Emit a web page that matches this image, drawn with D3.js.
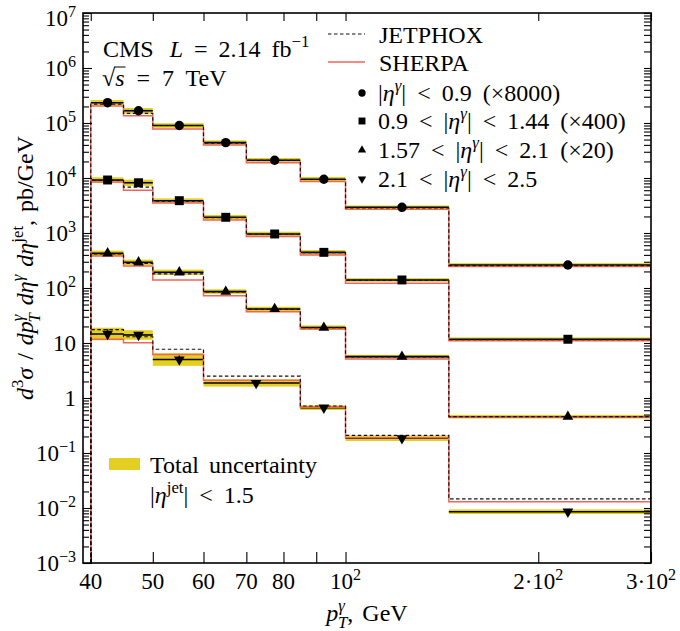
<!DOCTYPE html>
<html>
<head>
<meta charset="utf-8">
<script src="https://cdn.jsdelivr.net/npm/d3@7"></script>
<style>
  body { margin: 0; background: #fff; }
  svg text { font-family: "Liberation Serif", serif; fill: #000; }
</style>
</head>
<body>
<svg id="chart" width="680" height="631"></svg>
<script>
// bin edges in pT (GeV); the forward region merges 60-85
const edges = [40, 45, 50, 60, 70, 85, 100, 145, 300];
const edgesFwd = [40, 45, 50, 60, 85, 100, 145, 300];

// |eta| < 0.9 (x8000)
const s1Data    = [2.34e5, 1.67e5, 9.0e4, 4.4e4, 2.1e4, 9.5e3, 2.93e3, 262];
const s1Jetphox = [2.2e5, 1.5e5, 9.0e4, 4.3e4, 2.1e4, 9.4e3, 2.85e3, 255];
const s1Sherpa  = [2.04e5, 1.35e5, 7.8e4, 4.0e4, 1.9e4, 8.6e3, 2.7e3, 245];
const s1Unc     = [0.12, 0.12, 0.10, 0.10, 0.10, 0.10, 0.08, 0.08];

// 0.9 < |eta| < 1.44 (x400)
const s2Data    = [9.2e3, 8.2e3, 3.87e3, 1.93e3, 960, 445, 140, 11.7];
const s2Jetphox = [9.0e3, 6.8e3, 3.8e3, 1.9e3, 950, 440, 138, 11.5];
const s2Sherpa  = [8.5e3, 6.0e3, 3.5e3, 1.72e3, 860, 400, 122, 11];
const s2Unc     = [0.12, 0.14, 0.10, 0.10, 0.10, 0.10, 0.08, 0.08];

// 1.57 < |eta| < 2.1 (x20)
const s3Data    = [427, 293, 193, 86, 41.5, 19, 5.65, 0.457];
const s3Jetphox = [415, 281, 180, 85, 41, 19, 5.6, 0.46];
const s3Sherpa  = [380, 251, 140, 72, 37, 18, 5.1, 0.45];
const s3Unc     = [0.12, 0.12, 0.12, 0.10, 0.10, 0.10, 0.08, 0.08];

// 2.1 < |eta| < 2.5
const s4Data    = [14.6, 14.0, 5.0, 1.87, 0.667, 0.185, 0.00857];
const s4Jetphox = [17.5, 13, 7.7, 2.5, 0.716, 0.21, 0.0146];
const s4Sherpa  = [11.7, 10.1, 6.2, 2.1, 0.68, 0.19, 0.013];
const s4Unc     = [0.30, 0.22, 0.30, 0.16, 0.10, 0.12, 0.10];
const s4Stat    = [0.22, 0.12, 0.18, 0.05, 0.05, 0.05, 0.05];

// tick labels ("^" starts a superscript)
const xTickVals = [40, 50, 60, 70, 80, 90, 100, 200, 300];
const xTickLabels = ["40", "50", "60", "70", "80", "", "10^2", "2·10^2", "3·10^2"];
const yTickVals = [1e7, 1e6, 1e5, 1e4, 1e3, 1e2, 10, 1, 0.1, 0.01, 0.001];
const yTickLabels = ["10^7", "10^6", "10^5", "10^4", "10^3", "10^2", "10", "1", "10^−1", "10^−2", "10^−3"];

const legendLabels = [
  [["|"], ["η", "i"], ["γ", "isup"], ["| < 0.9 (×8000)"]],
  [["0.9 < |"], ["η", "i"], ["γ", "isup"], ["| < 1.44 (×400)"]],
  [["1.57 < |"], ["η", "i"], ["γ", "isup"], ["| < 2.1 (×20)"]],
  [["2.1 < |"], ["η", "i"], ["γ", "isup"], ["| < 2.5"]]
];

const YELLOW = "#e3ce21";
const RED = "#f0645a";
const FS = 23;   // tick labels
const FT = 24;   // legend and notes

const svg = d3.select("#chart");
const mL = 83, mR = 651, mT = 13, mB = 563;

const x = d3.scaleLog().domain([38.9, 300]).range([mL, mR]);
const y = d3.scaleLog().domain([1e-3, 1e7]).range([mB, mT]);

const triDown = {
  draw(ctx, size) {
    const s = Math.sqrt(size / (Math.sqrt(3) / 4));
    const h = s * Math.sqrt(3) / 2;
    ctx.moveTo(-s / 2, -h / 3);
    ctx.lineTo(s / 2, -h / 3);
    ctx.lineTo(0, 2 * h / 3);
    ctx.closePath();
  }
};

const series = [
  { data: s1Data, jet: s1Jetphox, sh: s1Sherpa, unc: s1Unc, edges: edges, sym: d3.symbolCircle, size: 70 },
  { data: s2Data, jet: s2Jetphox, sh: s2Sherpa, unc: s2Unc, edges: edges, sym: d3.symbolSquare, size: 80 },
  { data: s3Data, jet: s3Jetphox, sh: s3Sherpa, unc: s3Unc, edges: edges, sym: d3.symbolTriangle, size: 50 },
  { data: s4Data, jet: s4Jetphox, sh: s4Sherpa, unc: s4Unc, edges: edgesFwd, sym: triDown, size: 50, stat: s4Stat }
];

// text with italic / super / subscript pieces
function rich(parent, px, py, parts, size, anchor, wsp) {
  const t = parent.append("text")
    .attr("x", px).attr("y", py)
    .attr("font-size", size)
    .attr("text-anchor", anchor || "start");
  if (wsp) t.attr("word-spacing", wsp);
  let cur = 0;
  parts.forEach(function(p) {
    const kind = p[1] || "";
    let shift = 0, fs = size;
    if (kind.includes("sup")) { shift = -0.4 * size; fs = 0.7 * size; }
    if (kind.includes("sub")) { shift = 0.3 * size; fs = 0.7 * size; }
    const ts = t.append("tspan").text(p[0]).attr("font-size", fs).attr("dy", shift - cur);
    if (kind.includes("i")) ts.attr("font-style", "italic");
    if (p[2]) ts.attr("dx", p[2]);
    cur = shift;
  });
  return t;
}
function parseLabel(s) {
  const k = s.indexOf("^");
  if (k < 0) return [[s]];
  return [[s.slice(0, k)], [s.slice(k + 1), "sup"]];
}

svg.append("defs").append("clipPath").attr("id", "plot")
  .append("rect").attr("x", mL).attr("y", mT).attr("width", mR - mL).attr("height", mB - mT);

const plot = svg.append("g").attr("clip-path", "url(#plot)");

// uncertainty bands and data lines
series.forEach(function(s) {
  const bins = s.data.map(function(v, i) {
    return { lo: s.edges[i], hi: s.edges[i + 1], v: v, u: s.unc[i] };
  });
  plot.append("g").selectAll("rect").data(bins).enter().append("rect")
    .attr("x", function(d) { return x(d.lo); })
    .attr("width", function(d) { return x(d.hi) - x(d.lo); })
    .attr("y", function(d) { return y(d.v * (1 + d.u)); })
    .attr("height", function(d) { return y(d.v / (1 + d.u)) - y(d.v * (1 + d.u)); })
    .attr("fill", YELLOW);
  plot.append("g").selectAll("line").data(bins).enter().append("line")
    .attr("x1", function(d) { return x(d.lo); })
    .attr("x2", function(d) { return x(d.hi); })
    .attr("y1", function(d) { return y(d.v); })
    .attr("y2", function(d) { return y(d.v); })
    .attr("stroke", "#000").attr("stroke-width", 1.6);
});

// step histograms: SHERPA then JETPHOX on top
function stepPoints(e, vals) {
  const pts = [[e[0], 1e-3]];
  vals.forEach(function(v, i) { pts.push([e[i], v]); pts.push([e[i + 1], v]); });
  pts.push([e[e.length - 1], 1e-3]);
  return pts;
}
const step = d3.line().x(function(d) { return x(d[0]); }).y(function(d) { return y(d[1]); });

series.forEach(function(s) {
  plot.append("path").attr("d", step(stepPoints(s.edges, s.sh)))
    .attr("fill", "none").attr("stroke", RED).attr("stroke-width", 1.5);
});
series.forEach(function(s) {
  plot.append("path").attr("d", step(stepPoints(s.edges, s.jet)))
    .attr("fill", "none").attr("stroke", "#111").attr("stroke-width", 1.2)
    .attr("stroke-dasharray", "3.5,2.5");
});

// markers
series.forEach(function(s) {
  const pts = s.data.map(function(v, i) {
    return { c: (s.edges[i] + s.edges[i + 1]) / 2, v: v, st: s.stat ? s.stat[i] : 0 };
  });
  if (s.stat) {
    plot.append("g").selectAll("line").data(pts).enter().append("line")
      .attr("x1", function(d) { return x(d.c); })
      .attr("x2", function(d) { return x(d.c); })
      .attr("y1", function(d) { return y(d.v * (1 + d.st)); })
      .attr("y2", function(d) { return y(d.v / (1 + d.st)); })
      .attr("stroke", "#000").attr("stroke-width", 1.6);
  }
  plot.append("g").selectAll("path").data(pts).enter().append("path")
    .attr("d", d3.symbol().type(s.sym).size(s.size))
    .attr("transform", function(d) { return "translate(" + x(d.c) + "," + y(d.v) + ")"; })
    .attr("fill", "#000");
});

// axes: ticks pointing inward
const yMinor = [];
for (let e = -3; e < 7; e++) for (let k = 2; k <= 9; k++) yMinor.push(k * Math.pow(10, e));

function styleAxis(g) {
  g.select(".domain").remove();
  g.selectAll(".tick line").attr("stroke", "#000").attr("stroke-width", 1.1);
}
svg.append("g").attr("transform", "translate(0," + mB + ")")
  .call(d3.axisBottom(x).tickValues(xTickVals).tickSize(-11).tickFormat("")).call(styleAxis);
svg.append("g").attr("transform", "translate(0," + mT + ")")
  .call(d3.axisTop(x).tickValues(xTickVals).tickSize(-8).tickFormat("")).call(styleAxis);
svg.append("g").attr("transform", "translate(" + mL + ",0)")
  .call(d3.axisLeft(y).tickValues(yTickVals).tickSize(-9).tickFormat("")).call(styleAxis);
svg.append("g").attr("transform", "translate(" + mL + ",0)")
  .call(d3.axisLeft(y).tickValues(yMinor).tickSize(-6).tickFormat("")).call(styleAxis);
svg.append("g").attr("transform", "translate(" + mR + ",0)")
  .call(d3.axisRight(y).tickValues(yTickVals.concat(yMinor)).tickSize(-7).tickFormat("")).call(styleAxis);

svg.append("rect").attr("x", mL).attr("y", mT).attr("width", mR - mL).attr("height", mB - mT)
  .attr("fill", "none").attr("stroke", "#000").attr("stroke-width", 1.6);

// tick labels
xTickVals.forEach(function(v, i) {
  if (xTickLabels[i]) rich(svg, x(v), 589, parseLabel(xTickLabels[i]), FS, "middle");
});
yTickVals.forEach(function(v, i) {
  rich(svg, 76, Math.max(y(v) + 8, 26), parseLabel(yTickLabels[i]), FS, "end");
});

// axis titles
rich(svg, 367, 621, [["p", "i"], ["γ", "isup"], ["T", "isub", -7], [", GeV"]], FT, "middle", 3);
rich(svg, 0, 0, [["d", "i"], ["3", "sup"], ["σ", "i"], [" / "], ["dp", "i"], ["γ", "isup"], ["T", "isub", -8],
  [" "], ["dη", "i"], ["γ", "isup"], [" "], ["dη", "i"], ["jet", "sup"], [", pb/GeV"]], FT, "middle", 2)
  .attr("transform", "translate(33,268) rotate(-90)");

// annotations
rich(svg, 103, 57, [["CMS"], ["L", "i", 16], [" = 2.14 fb"], ["−1", "sup"]], FT, "start", 5);
const rs = rich(svg, 102, 86, [["√"], ["s", "i"], [" = 7 TeV"]], FT, "start", 6);
const sBox = rs.selectAll("tspan").nodes()[1].getBBox();
svg.append("line").attr("x1", sBox.x - 1).attr("x2", sBox.x + sBox.width + 1)
  .attr("y1", sBox.y + 2).attr("y2", sBox.y + 2).attr("stroke", "#000").attr("stroke-width", 1);

// legend, top right
const lg = svg.append("g");
lg.append("line").attr("x1", 328).attr("x2", 365).attr("y1", 34).attr("y2", 34)
  .attr("stroke", "#111").attr("stroke-width", 1.2).attr("stroke-dasharray", "3.5,2.5");
rich(lg, 379, 43, [["JETPHOX"]], FT);
lg.append("line").attr("x1", 328).attr("x2", 365).attr("y1", 62).attr("y2", 62)
  .attr("stroke", RED).attr("stroke-width", 1.5);
rich(lg, 379, 71, [["SHERPA"]], FT);
const legRowY = [93, 121, 150, 179];
series.forEach(function(s, i) {
  lg.append("path").attr("d", d3.symbol().type(s.sym).size(s.size * 0.6))
    .attr("transform", "translate(362," + legRowY[i] + ")").attr("fill", "#000");
  rich(lg, 378, legRowY[i] + 8, legendLabels[i], FT, "start", 5);
});

// legend, bottom left
svg.append("rect").attr("x", 109).attr("y", 458).attr("width", 31).attr("height", 12).attr("fill", YELLOW);
rich(svg, 150, 473, [["Total uncertainty"]], FT, "start", 4);
rich(svg, 150, 503, [["|"], ["η", "i"], ["jet", "sup"], ["| < 1.5"]], FT, "start", 5);
</script>
</body>
</html>
